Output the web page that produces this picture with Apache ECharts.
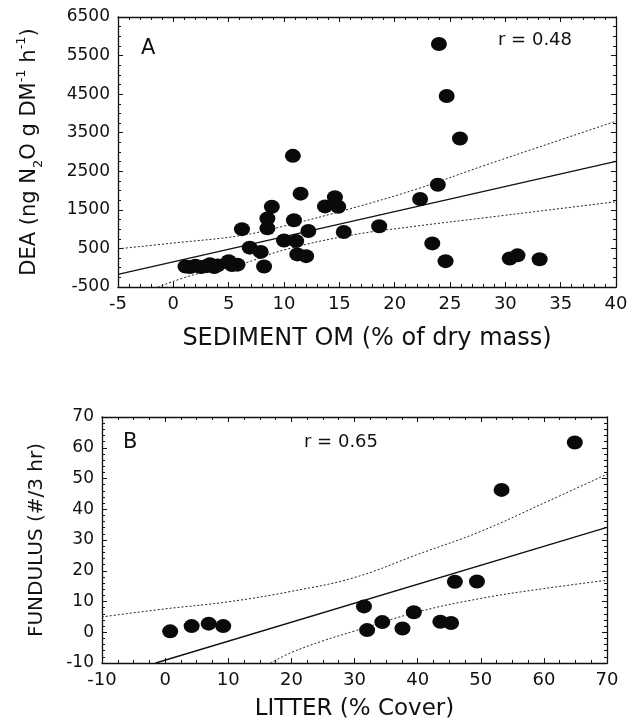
<!DOCTYPE html>
<html lang="en">
<head>
  <meta charset="UTF-8">
  <title>DEA and Fundulus</title>
  <script src="https://cdn.jsdelivr.net/npm/echarts@6/dist/echarts.min.js"></script>
  <style>
    html, body { margin: 0; padding: 0; background: #fff; }
    #chart { width: 632px; height: 722px; }
  </style>
</head>
<body>
  <div id="chart"></div>
<script>
  // panel A: sediment OM (%) vs DEA
  let omA = [24.0, 24.7, 25.9, 10.8, 23.9, 22.3, 11.5, 8.9, 14.6, 13.7, 14.9, 8.5, 8.5, 6.2, 10.9,
    12.2, 15.4, 18.6, 10.0, 11.1, 6.9, 7.9, 8.2, 11.2, 12.0, 23.4, 24.6, 30.4, 31.1, 33.1,
    1.1, 1.5, 2.0, 2.5, 3.0, 3.3, 3.7, 4.0, 5.0, 5.3, 5.8]
  let deaA = [5800, 4450, 3350, 2900, 2150, 1780, 1920, 1580, 1830, 1590, 1580, 1275, 1020, 1000, 1230,
    950, 925, 1075, 705, 690, 520, 410, 30, 345, 300, 630, 170, 240, 320, 220,
    30, 20, 50, 20, 40, 90, 20, 60, 170, 70, 80]
  let fitA = [[-5, -172], [40, 2758]]
  let upperA = [[-5, 490], [0, 640], [6, 830], [10, 1080], [16, 1530], [22, 2040], [28, 2640], [34, 3220], [40, 3800]]
  let lowerA = [[-1.4, -500], [2, -170], [6, 80], [10, 460], [16, 840], [22, 1080], [28, 1290], [34, 1500], [40, 1710]]

  // panel B: litter cover (%) vs Fundulus catch
  let litterB = [0.8, 4.2, 6.9, 9.2, 31.5, 32.0, 34.4, 37.6, 39.4, 43.6, 45.3, 45.9, 49.4, 53.3, 64.9]
  let fundB = [0.3, 2.0, 2.8, 2.0, 8.4, 0.7, 3.3, 1.2, 6.5, 3.4, 3.0, 16.4, 16.5, 46.3, 61.7]
  let fitB = [[-1.5, -10], [70, 34.1]]
  let upperB = [[-10, 5], [0, 7.6], [10, 9.9], [20, 13.3], [30, 17.8], [40, 25.3], [50, 32.8], [60, 42], [70, 51.4]]
  let lowerB = [[16.7, -10], [20, -6.6], [25, -2.8], [30, 0.4], [40, 6.6], [50, 11], [60, 14.2], [70, 16.9]]

  const font = 'DejaVu Sans, Liberation Sans, sans-serif'
  const ink = '#111'

  function pairs(xs, ys) {
    return xs.map((x, i) => [x, ys[i]])
  }

  function xAx(grid, min, max, step, minor, name, gap, size, top) {
    return {
      type: 'value', gridIndex: grid, min: min, max: max, interval: step,
      position: top ? 'top' : 'bottom',
      name: top ? '' : name, nameLocation: 'middle', nameGap: gap,
      nameTextStyle: { fontFamily: font, fontSize: size, color: ink },
      axisLine: { onZero: false, lineStyle: { color: ink, width: 1.3 } },
      axisTick: { inside: true, length: 5, lineStyle: { color: ink } },
      minorTick: { show: true, splitNumber: minor, length: 3, lineStyle: { color: ink } },
      splitLine: { show: false },
      axisLabel: { show: !top, fontFamily: font, fontSize: 18, color: ink, margin: 8, formatter: v => String(v) }
    }
  }

  function yAx(grid, min, max, step, minor, name, gap, size, right, rich) {
    return {
      type: 'value', gridIndex: grid, min: min, max: max, interval: step,
      position: right ? 'right' : 'left',
      name: right ? '' : name, nameLocation: 'middle', nameGap: gap,
      nameTextStyle: { fontFamily: font, fontSize: size, color: ink, lineHeight: 30, rich: rich },
      axisLine: { onZero: false, lineStyle: { color: ink, width: 1.3 } },
      axisTick: { inside: true, length: 5, lineStyle: { color: ink } },
      minorTick: { show: true, splitNumber: minor, length: 3, lineStyle: { color: ink } },
      splitLine: { show: false },
      axisLabel: { show: !right, fontFamily: font, fontSize: 17, color: ink, margin: 8, formatter: v => String(v) }
    }
  }

  const deaRich = {
    sub: { fontFamily: font, fontSize: 13, color: ink, verticalAlign: 'bottom', lineHeight: 30 },
    sup: { fontFamily: font, fontSize: 13, color: ink, verticalAlign: 'top', lineHeight: 30 }
  }

  function fitLine(xi, data, dotted) {
    return {
      type: 'line', xAxisIndex: xi, yAxisIndex: xi, data: data,
      smooth: dotted ? 0.4 : false, showSymbol: false, silent: true, z: 2,
      lineStyle: dotted ? { color: '#222', width: 1, type: [2, 2] } : { color: ink, width: 1.4 }
    }
  }

  function dots(xi, data) {
    return {
      type: 'scatter', xAxisIndex: xi, yAxisIndex: xi, data: data, z: 5,
      symbol: 'circle', symbolSize: [16, 14],
      itemStyle: { color: '#0a0a0a', opacity: 1 }
    }
  }

  let chart = echarts.init(document.getElementById('chart'), null, { renderer: 'canvas' })
  chart.setOption({
    animation: false,
    backgroundColor: '#fff',
    grid: [
      { left: 118, top: 17, width: 498, height: 270 },
      { left: 102, top: 417, width: 505, height: 247 }
    ],
    xAxis: [
      xAx(0, -5, 40, 5, 5, 'SEDIMENT OM (% of dry mass)', 40, 24, false),
      xAx(1, -10, 70, 10, 4, 'LITTER (% Cover)', 35, 23, false),
      xAx(0, -5, 40, 5, 5, '', 0, 0, true),
      xAx(1, -10, 70, 10, 4, '', 0, 0, true)
    ],
    yAxis: [
      yAx(0, -500, 6500, 1000, 4, 'DEA (ng N{sub|2}O g DM{sup|-1} h{sup|-1})', 73, 21, false, deaRich),
      yAx(1, -10, 70, 10, 5, 'FUNDULUS (#/3 hr)', 50, 20, false),
      yAx(0, -500, 6500, 1000, 4, '', 0, 0, true),
      yAx(1, -10, 70, 10, 5, '', 0, 0, true)
    ],
    series: [
      fitLine(0, fitA, false),
      fitLine(0, upperA, true),
      fitLine(0, lowerA, true),
      dots(0, pairs(omA, deaA)),
      fitLine(1, fitB, false),
      fitLine(1, upperB, true),
      fitLine(1, lowerB, true),
      dots(1, pairs(litterB, fundB))
    ],
    graphic: [
      { type: 'text', left: 141, top: 38, style: { text: 'A', font: '21px ' + font, fill: ink } },
      { type: 'text', left: 498, top: 31, style: { text: 'r = 0.48', font: '18px ' + font, fill: ink } },
      { type: 'text', left: 123, top: 432, style: { text: 'B', font: '21px ' + font, fill: ink } },
      { type: 'text', left: 304, top: 433, style: { text: 'r = 0.65', font: '18px ' + font, fill: ink } }
    ]
  })
</script>
</body>
</html>
